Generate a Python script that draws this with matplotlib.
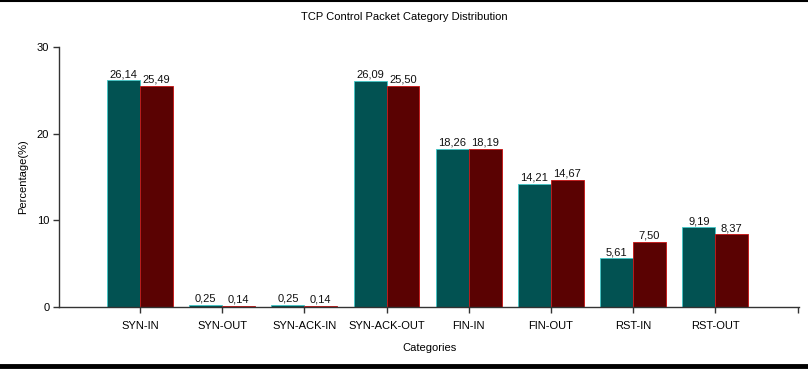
import matplotlib
matplotlib.use('Agg')
import matplotlib.pyplot as plt
import numpy as np
from matplotlib.lines import Line2D

plt.rcParams['font.family'] = ['Liberation Sans', 'DejaVu Sans']

categories = ['SYN-IN', 'SYN-OUT', 'SYN-ACK-IN', 'SYN-ACK-OUT', 'FIN-IN', 'FIN-OUT', 'RST-IN', 'RST-OUT']
series_a = [26.14, 0.25, 0.25, 26.09, 18.26, 14.21, 5.61, 9.19]
series_b = [25.49, 0.14, 0.14, 25.50, 18.19, 14.67, 7.50, 8.37]
yticks = [0, 10, 20, 30]

fig = plt.figure(figsize=(8.08, 3.69), dpi=100)
ax = fig.add_axes([0.073, 0.168, 0.916, 0.705])

x = np.arange(len(categories))
w = 0.4
bars_a = ax.bar(x - w / 2, series_a, w, color='#025252', edgecolor='#40c8c8', linewidth=0.6)
bars_b = ax.bar(x + w / 2, series_b, w, color='#5a0202', edgecolor='#c81010', linewidth=0.6)

# value labels with comma decimals
for bars, vals in [(bars_a, series_a), (bars_b, series_b)]:
    for b, v in zip(bars, vals):
        ax.text(b.get_x() + b.get_width() / 2, v + 0.15, f'{v:.2f}'.replace('.', ','),
                ha='center', va='bottom', fontsize=8, color='#111111')

ax.set_xlim(-0.985, 8.02)
ax.set_ylim(0, 30)
ax.set_xticks(x)
ax.set_xticklabels(categories, fontsize=8)
ax.set_xticks([8.01], minor=True)
ax.set_yticks(yticks)
ax.set_yticklabels([str(t) for t in yticks], fontsize=8)
ax.tick_params(axis='both', which='both', length=4, width=1, color='#333333', pad=3)
ax.tick_params(axis='x', which='both', pad=6)

for s in ['top', 'right']:
    ax.spines[s].set_visible(False)
for s in ['left', 'bottom']:
    ax.spines[s].set_color('#333333')
    ax.spines[s].set_linewidth(1)

ax.set_xlabel('Categories', fontsize=8, labelpad=9)
ax.set_ylabel('Percentage(%)', fontsize=8, labelpad=6)
fig.text(0.5, 0.953, 'TCP Control Packet Category Distribution', ha='center', va='center', fontsize=8)

# black frame lines at top and bottom of the picture
fig.add_artist(Line2D([0, 1], [0.997, 0.997], color='black', linewidth=1.5, transform=fig.transFigure))
fig.add_artist(Line2D([0, 1], [0.007, 0.007], color='black', linewidth=3.5, transform=fig.transFigure))

fig.savefig('out.png', dpi=100)
